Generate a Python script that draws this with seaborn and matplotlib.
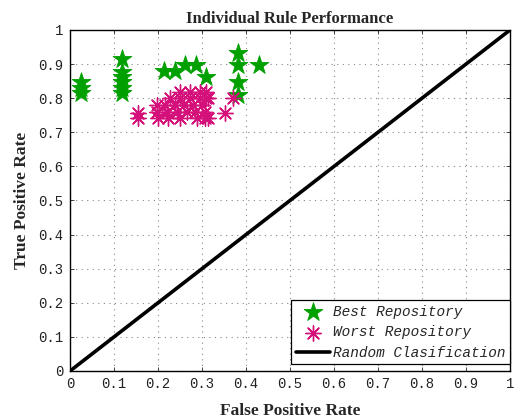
import matplotlib
matplotlib.use("Agg")
import matplotlib.pyplot as plt
import seaborn as sns
import numpy as np
import pandas as pd

# Best repository (green stars)
best_fpr = [0.024, 0.024, 0.024,
            0.119, 0.119, 0.119, 0.119, 0.119, 0.119,
            0.214, 0.239, 0.261, 0.286, 0.308,
            0.381, 0.381, 0.381, 0.381, 0.43]
best_tpr = [0.815, 0.83, 0.847,
            0.815, 0.83, 0.848, 0.863, 0.878, 0.915,
            0.880, 0.880, 0.897, 0.897, 0.863,
            0.932, 0.897, 0.847, 0.809, 0.897]

# Worst repository (pink asterisks)
worst_fpr = [0.25, 0.273, 0.295, 0.31,
             0.227, 0.25, 0.273, 0.295, 0.31, 0.314,
             0.197, 0.216, 0.239, 0.258, 0.28, 0.299,
             0.155, 0.197, 0.22, 0.243, 0.265, 0.284, 0.307,
             0.155, 0.2, 0.223, 0.25, 0.288, 0.307, 0.314,
             0.371, 0.352]
worst_tpr = [0.819, 0.819, 0.819, 0.819,
             0.80, 0.80, 0.80, 0.80, 0.80, 0.80,
             0.78, 0.78, 0.78, 0.78, 0.78, 0.78,
             0.757, 0.76, 0.76, 0.76, 0.76, 0.76, 0.76,
             0.741, 0.741, 0.741, 0.741, 0.741, 0.741, 0.741,
             0.80, 0.756]

diag = [0.0, 1.0]
ticks = [0, 0.1, 0.2, 0.3, 0.4, 0.5, 0.6, 0.7, 0.8, 0.9, 1]
tick_labels = ["0", "0.1", "0.2", "0.3", "0.4", "0.5", "0.6", "0.7", "0.8", "0.9", "1"]

sns.set_style("white")
plt.rcParams["font.family"] = ["DejaVu Sans"]

fig = plt.figure(figsize=(5.21, 4.2), dpi=100)
ax = fig.add_axes([0.1344, 0.1167, 0.8445, 0.8119])

df_best = pd.DataFrame({"x": best_fpr, "y": best_tpr})
df_worst = pd.DataFrame({"x": worst_fpr, "y": worst_tpr})
df_diag = pd.DataFrame({"x": diag, "y": diag})

green = "#00a000"
pink = "#d4107a"

sns.scatterplot(data=df_best, x="x", y="y", ax=ax, marker="*", s=200,
                color=green, edgecolor=green, linewidth=0.6,
                label="Best Repository", zorder=3)
sns.scatterplot(data=df_worst, x="x", y="y", ax=ax, marker=(8, 2, 0), s=120,
                color=pink, linewidth=1.0,
                label="Worst Repository", zorder=3)
sns.lineplot(data=df_diag, x="x", y="y", ax=ax, color="black", linewidth=2.6,
             label="Random Clasification", zorder=4)

ax.set_xlim(0, 1)
ax.set_ylim(0, 1)
ax.set_xticks(ticks)
ax.set_yticks(ticks)
mono = "Liberation Mono"
ax.set_xticklabels(tick_labels, family=mono, fontsize=10, color="#222222")
ax.set_yticklabels(tick_labels, family=mono, fontsize=10, color="#222222")
ax.tick_params(axis="both", direction="in", length=3, width=0.6, top=True, right=True,
               bottom=True, left=True)
ax.tick_params(axis="x", pad=4)
ax.tick_params(axis="y", pad=5)

ax.grid(True, linestyle=(0, (1, 4)), color="#888888", linewidth=0.8)
for sp in ax.spines.values():
    sp.set_color("black")
    sp.set_linewidth(1.0)

ax.set_title("Individual Rule Performance", family="Liberation Serif",
             fontweight="bold", fontsize=12, pad=5)
ax.set_xlabel("False Positive Rate", family="Liberation Serif",
              fontweight="bold", fontsize=12.5, labelpad=9)
ax.set_ylabel("True Positive Rate", family="Liberation Serif",
              fontweight="bold", fontsize=12.5, labelpad=6)

leg = ax.legend(loc="lower right", bbox_to_anchor=(1.0, 0.02),
                prop={"family": mono, "style": "italic", "size": 10.4},
                frameon=True, fancybox=False, edgecolor="black", framealpha=1,
                borderpad=0.3, labelspacing=0.45, handlelength=2.4, handletextpad=0.2,
                borderaxespad=0.0)
leg.get_frame().set_linewidth(0.9)

fig.savefig("out.png", dpi=100)
